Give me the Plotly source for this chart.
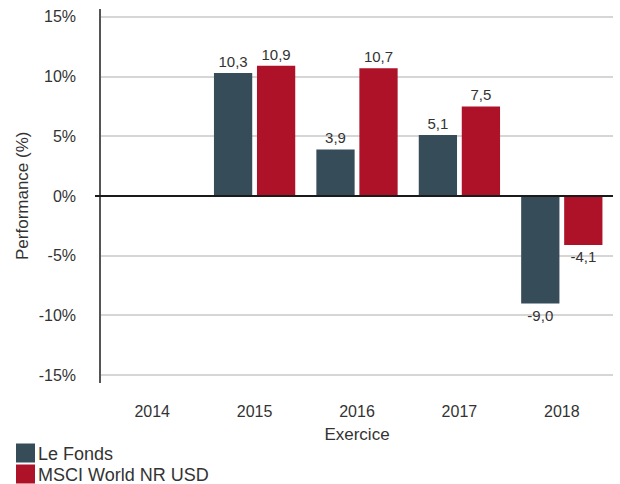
import plotly.graph_objects as go

years = ["2014", "2015", "2016", "2017", "2018"]
fonds = [None, 10.3, 3.9, 5.1, -9.0]
msci = [None, 10.9, 10.7, 7.5, -4.1]
series_names = ["Le Fonds", "MSCI World NR USD"]
colors = ["#364C59", "#AE1229"]
ytick_vals = [-15, -10, -5, 0, 5, 10, 15]
ytick_text = [f"{v}%" for v in ytick_vals]

FONT = "Liberation Sans, Arial, Helvetica, sans-serif"
TXT = "#333333"

L, R, T, B, W, H = 101, 7, 9, 101, 620, 484
PW, PH = W - L - R, H - T - B


def px_x(px):
    return (px - L) / PW


def px_y(py):
    return (H - B - py) / PH


fig = go.Figure()
for name, vals, col in zip(series_names, [fonds, msci], colors):
    fig.add_trace(go.Bar(
        x=years, y=vals, name=name, marker=dict(color=col, line=dict(width=0)),
        text=[("" if v is None else f"{v:.1f}".replace(".", ",")) for v in vals],
        textposition="outside", cliponaxis=False, constraintext="none",
        textfont=dict(family=FONT, size=15, color=TXT),
        showlegend=False,
    ))

# zero line (extends slightly left of the y axis)
fig.add_shape(type="line", xref="paper", yref="y", x0=px_x(95), x1=1, y0=0, y1=0,
              line=dict(color="#1a1a1a", width=2), layer="above")

# legend drawn below the chart
for i, (name, col) in enumerate(zip(series_names, colors)):
    top = 443.5 + i * 21
    fig.add_shape(type="rect", xref="paper", yref="paper",
                  x0=px_x(16), x1=px_x(35), y0=px_y(top), y1=px_y(top + 19),
                  fillcolor=col, line=dict(width=0))
    fig.add_annotation(text=name, xref="paper", yref="paper",
                       x=px_x(36), y=px_y(top + 10), xanchor="left", yanchor="middle",
                       showarrow=False, font=dict(family=FONT, size=18, color=TXT))

fig.add_annotation(text="Performance (%)", textangle=-90, xref="paper", yref="paper",
                   x=px_x(22), y=0.5, xanchor="center", yanchor="middle",
                   showarrow=False, font=dict(family=FONT, size=17, color=TXT))

fig.update_layout(
    width=W, height=H,
    margin=dict(l=L, r=R, t=T, b=B, autoexpand=False),
    paper_bgcolor="white", plot_bgcolor="white",
    font=dict(family=FONT, size=16, color=TXT),
    barmode="group", bargap=0.16, bargroupgap=0.11,
    showlegend=False,
    xaxis=dict(
        showgrid=False, showline=False, zeroline=False, ticks="",
        tickfont=dict(family=FONT, size=16, color=TXT),
        ticklabelstandoff=17,
        title=dict(text="Exercice", font=dict(family=FONT, size=17, color=TXT), standoff=9),
    ),
    yaxis=dict(
        range=[-15.65, 15.65], tickvals=ytick_vals, ticktext=ytick_text,
        showgrid=True, gridcolor="#D6D6D6", gridwidth=1.5,
        zeroline=False, showline=True, linecolor="#555555", linewidth=1.5,
        ticks="", ticklabelstandoff=20,
        tickfont=dict(family=FONT, size=16, color=TXT),
    ),
)

fig.write_html("out.html", config={"displayModeBar": False},
               post_script="document.body.style.margin='0';document.body.style.overflow='hidden';")
